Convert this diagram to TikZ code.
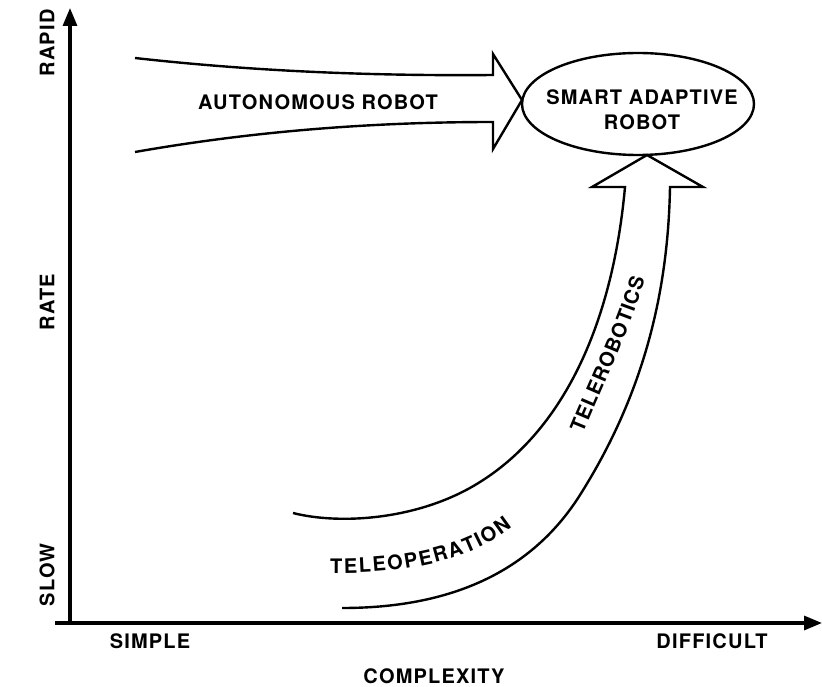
\documentclass[tikz,border=0pt]{standalone}
\usepackage{fontspec}
\setmainfont{TeX Gyre Heros}
\newfontfamily\capsfont[LetterSpace=6]{TeX Gyre Heros}
\usetikzlibrary{arrows.meta,decorations.text}
\newcommand{\lblfont}{\capsfont\fontsize{20}{25}\selectfont\bfseries}
\tikzset{
  axis/.style={line width=3.2pt,-{Triangle[length=18pt,width=14pt]}},
  outline/.style={line width=2.4pt,line join=miter},
  lbl/.style={font=\lblfont,inner sep=0pt}
}
\begin{document}
\begin{tikzpicture}[x=1pt,y=-1pt]
  \useasboundingbox (0,0) rectangle (822,687);
  % axes
  \coordinate (orig) at (70,625);
  \coordinate (xstart) at (55,623);
  \coordinate (ytip) at (70,8);
  \coordinate (xtip) at (822,623);
  \draw[axis] (orig) -- (ytip);
  \draw[axis] (xstart) -- (xtip);
  \foreach \y/\t in {43/RAPID,302/RATE,575/SLOW}
    \node[lbl,rotate=90] (lab-\t) at (47,\y) {\t};
  \node[lbl] (simple) at (150,641) {SIMPLE};
  \node[lbl] (difficult) at (712,641) {DIFFICULT};
  \node[lbl] (complexity) at (434,676) {COMPLEXITY};
  % straight arrow
  \draw[outline] (135,58) .. controls (260,72) and (380,76) .. (493,75)
    -- (493,54) -- (522,100) -- (493,149) -- (493,122)
    .. controls (380,122) and (260,130) .. (135,152);
  \node[lbl,anchor=west] (auto) at (198,102) {AUTONOMOUS ROBOT};
  % goal
  \draw[outline] (638,104) ellipse [x radius=116, y radius=51];
  \node[lbl,align=center] (smart) at (642,110) {SMART ADAPTIVE\\ROBOT};
  % curved arrow
  \draw[outline] (293,513) .. controls (340,525) and (420,520) .. (480,482)
    .. controls (560,432) and (612,330) .. (625,187)
    -- (592,187) -- (647,155) -- (703,187) -- (670,187)
    .. controls (668,300) and (640,400) .. (580,495)
    .. controls (520,590) and (420,608) .. (342,608);
  \path[decorate,decoration={text along path,text align=fit to path,
      text={|\lblfont|TELEOPERATION}}]
    (330,573) .. controls (410,574) and (470,560) .. (512,527);
  \path[decorate,decoration={text along path,text align=fit to path,
      text={|\lblfont|TELEROBOTICS}}]
    (583,434) .. controls (603,385) and (630,330) .. (645,279);
\end{tikzpicture}
\end{document}
